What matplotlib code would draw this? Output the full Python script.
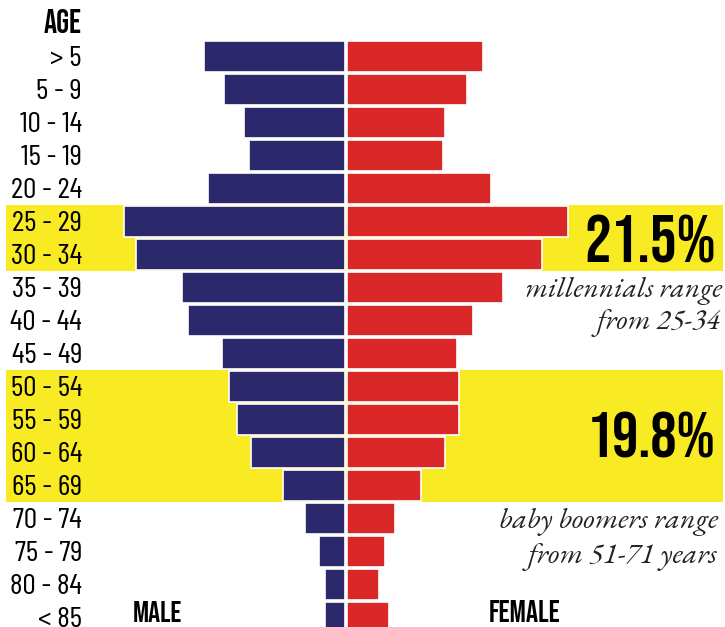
import numpy as np
import matplotlib
matplotlib.use("Agg")
import matplotlib.pyplot as plt

# age groups, top to bottom (labels as printed on the chart)
age_groups = ["> 5", "5 - 9", "10 - 14", "15 - 19", "20 - 24", "25 - 29", "30 - 34",
              "35 - 39", "40 - 44", "45 - 49", "50 - 54", "55 - 59", "60 - 64",
              "65 - 69", "70 - 74", "75 - 79", "80 - 84", "< 85"]

# share of population (%)
male = [2.82, 2.42, 2.02, 1.91, 2.74, 4.42, 4.17, 3.25, 3.13, 2.46,
        2.31, 2.15, 1.88, 1.24, 0.79, 0.51, 0.39, 0.39]
female = [2.71, 2.39, 1.96, 1.92, 2.87, 4.42, 3.90, 3.11, 2.51, 2.19,
          2.24, 2.24, 1.96, 1.48, 0.96, 0.76, 0.64, 0.84]

# highlighted ranges (first and last row index)
millennials_rows = (5, 6)
boomers_rows = (10, 13)
millennials_pct = "21.5%"
boomers_pct = "19.8%"

navy = "#2C286C"
red = "#DA2828"
yellow = "#F9EB23"

cond = ["Bebas Neue", "DejaVu Sans"]
light_cond = ["Barlow Condensed", "DejaVu Sans"]
serif = ["EB Garamond", "DejaVu Serif"]

fig = plt.figure(figsize=(7.25, 6.27), dpi=100)
ax = fig.add_axes([0, 0, 1, 1])

y = np.arange(len(age_groups))
gap = 0.025

# yellow bands behind the bars
for r0, r1 in [millennials_rows, boomers_rows]:
    ax.axhspan(r0 - 0.5, r1 + 0.5, xmin=0.008, xmax=0.997, color=yellow, lw=0, zorder=0)

ax.barh(y, -np.array(male), left=-gap, height=0.95, color=navy,
        edgecolor="white", linewidth=1.2, zorder=2)
ax.barh(y, female, left=gap, height=0.95, color=red,
        edgecolor="white", linewidth=1.2, zorder=2)

ax.set_xlim(-6.924, 7.576)
ax.set_ylim(17.295, -1.7045)
ax.axis("off")

# age labels (baseline placed a bit under the row centre)
tr = ax.get_yaxis_transform()
for i, lab in enumerate(age_groups):
    ax.text(0.113, i + 0.29, lab, transform=tr, ha="right", va="baseline",
            fontsize=21.5, family=light_cond, color="black")
ax.text(0.113, -0.705, "AGE", transform=tr, ha="right", va="baseline",
        fontsize=23.5, family=cond)

# MALE / FEMALE
ax.text(157 / 725, 17.14, "MALE", transform=tr, ha="center", va="baseline",
        fontsize=21.5, family=cond)
ax.text(525 / 725, 17.14, "FEMALE", transform=tr, ha="center", va="baseline",
        fontsize=22, family=cond)

# annotations
ax.text(716 / 725, 6.235, millennials_pct, transform=tr, ha="right", va="baseline",
        fontsize=48, family=cond, zorder=3)
ax.text(722 / 725, 7.295, "millennials range", transform=tr, ha="right", va="baseline",
        fontsize=21, style="italic", family=serif, color="#222222")
ax.text(721 / 725, 8.265, "from 25-34", transform=tr, ha="right", va="baseline",
        fontsize=21, style="italic", family=serif, color="#222222")

ax.text(716 / 725, 12.17, boomers_pct, transform=tr, ha="right", va="baseline",
        fontsize=47, family=cond, zorder=3)
ax.text(718 / 725, 14.29, "baby boomers range", transform=tr, ha="right", va="baseline",
        fontsize=21.5, style="italic", family=serif, color="#222222")
ax.text(718 / 725, 15.35, "from 51-71 years", transform=tr, ha="right", va="baseline",
        fontsize=21.5, style="italic", family=serif, color="#222222")

fig.savefig("out.png", dpi=100)
